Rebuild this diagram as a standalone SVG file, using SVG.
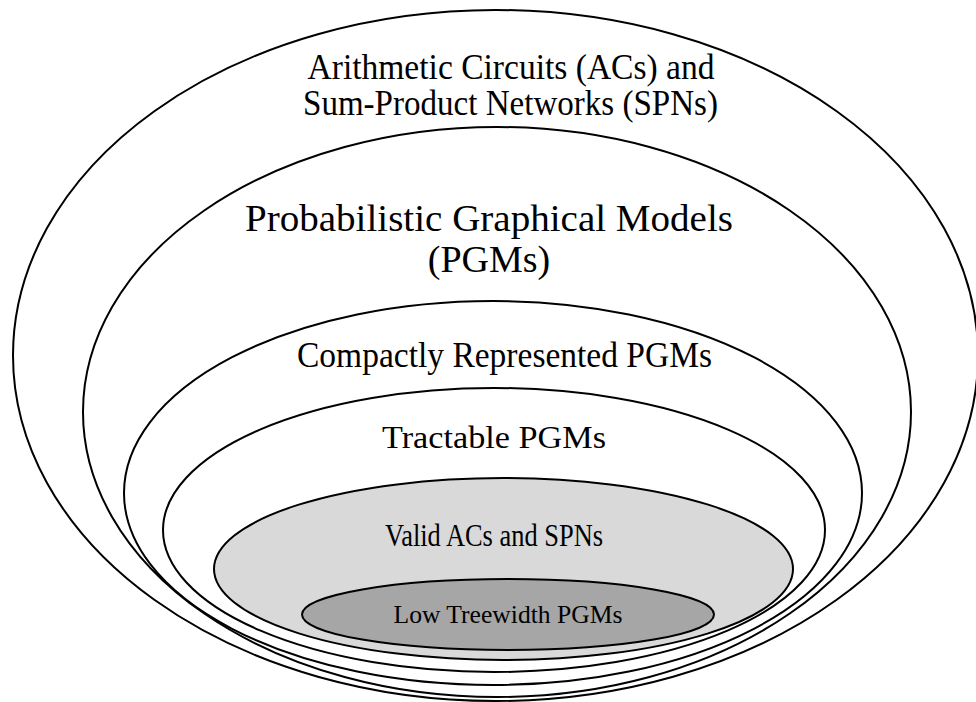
<svg xmlns="http://www.w3.org/2000/svg" width="976" height="702" viewBox="0 0 976 702">
<style>
.e{stroke:#000;stroke-width:2;}
.t{font-family:"Liberation Serif","Times New Roman",serif;fill:#000;}
</style>
<rect width="976" height="702" fill="#fff"/>
<g id="acs-spns">
<ellipse class="e" cx="495.5" cy="355.5" rx="482.5" ry="345.5" fill="#fff"/>
<text class="t" x="511" y="79" font-size="36" text-anchor="middle" textLength="407" lengthAdjust="spacingAndGlyphs">Arithmetic Circuits (ACs) and</text>
<text class="t" x="510.5" y="115" font-size="36" text-anchor="middle" textLength="415" lengthAdjust="spacingAndGlyphs">Sum-Product Networks (SPNs)</text>
</g>
<g id="pgms">
<ellipse class="e" cx="497" cy="412" rx="414" ry="285" fill="#fff"/>
<text class="t" x="489" y="231" font-size="38" text-anchor="middle" textLength="488" lengthAdjust="spacingAndGlyphs">Probabilistic Graphical Models</text>
<text class="t" x="489" y="272" font-size="38" text-anchor="middle">(PGMs)</text>
</g>
<g id="compact-pgms">
<ellipse class="e" cx="493" cy="493" rx="369" ry="192" fill="#fff"/>
<text class="t" x="504.5" y="367" font-size="35" text-anchor="middle" textLength="415" lengthAdjust="spacingAndGlyphs">Compactly Represented PGMs</text>
</g>
<g id="tractable-pgms">
<ellipse class="e" cx="494" cy="530" rx="331" ry="142" fill="#fff"/>
<text class="t" x="494" y="448" font-size="32" text-anchor="middle" textLength="224" lengthAdjust="spacingAndGlyphs">Tractable PGMs</text>
</g>
<g id="valid-acs-spns">
<ellipse class="e" cx="503.5" cy="569" rx="289.5" ry="91" fill="#d9d9d9"/>
<text class="t" x="494" y="546" font-size="31" text-anchor="middle" textLength="218" lengthAdjust="spacingAndGlyphs">Valid ACs and SPNs</text>
</g>
<g id="low-treewidth-pgms">
<ellipse class="e" cx="508" cy="614.5" rx="206" ry="35.5" fill="#a6a6a6"/>
<text class="t" x="508" y="623" font-size="26" text-anchor="middle" textLength="229" lengthAdjust="spacingAndGlyphs">Low Treewidth PGMs</text>
</g>
<g id="connectors"></g>
</svg>
